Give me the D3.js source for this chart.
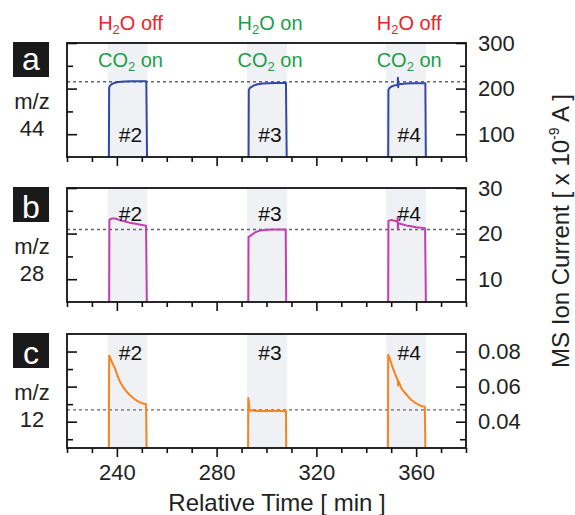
<!DOCTYPE html>
<html><head><meta charset="utf-8">
<script src="https://cdn.jsdelivr.net/npm/d3@7"></script>
<style>
body{margin:0;background:#fff}
svg{display:block;font-family:"Liberation Sans",Arial,Helvetica,sans-serif}
</style>
</head><body>
<svg id="chart" width="575" height="515"></svg>
<script>
// ---------------- data ----------------
const xDomain = [220, 380];
const xTicksMajor = [240, 280, 320, 360];
const xTicksMinor = [220, 230, 250, 260, 270, 290, 300, 310, 330, 340, 350, 370, 380];

const runLabels = ["#2", "#3", "#4"];
const runShade = [[236.3, 252.2], [292.2, 308.2], [348.0, 364.0]];
const waterState = ["off", "on", "off"];
const co2State = ["on", "on", "on"];

const panelLetters = ["a", "b", "c"];
const massLabels = ["44", "28", "12"];

// m/z 44 (x 1e-9 A)
const m44Domain = [50, 300];
const m44Ticks = [100, 200, 300];
const m44Minor = [150, 250];
const m44Ref = 215;
const m44Run2 = [[236.8,50],[236.9,202],[237.2,206],[237.8,209],[238.8,212],[240.5,214.5],[243,215.5],[246,216],[251.8,216],[252.1,50]];
const m44Run3 = [[292.8,50],[292.9,197],[293.3,201],[294,204],[295,207],[296.5,209.5],[298.5,211],[301,212],[304,212.5],[307.8,212.5],[308.1,50]];
const m44Run4 = [[348.8,50],[348.9,197],[349.3,201],[350,204],[351,206.5],[352.3,208],[352.6,208.5],[352.7,224],[352.8,203],[352.95,209.5],[354,210],[356,211],[359,211.5],[363.7,211.5],[363.9,50]];

// m/z 28
const m28Domain = [5, 30];
const m28Ticks = [10, 20, 30];
const m28Minor = [15, 25];
const m28Ref = 20.9;
const m28Run2 = [[236.9,5],[237.0,23.0],[237.8,23.3],[239.3,23.3],[241,23.0],[243,22.7],[245,22.4],[247,22.2],[249,22.0],[251.7,21.7],[252.0,5]];
const m28Run3 = [[292.7,5],[292.8,19.3],[293.5,19.5],[294.5,19.9],[295.5,20.3],[297,20.6],[299,20.8],[302,20.9],[307.7,20.9],[307.9,5]];
const m28Run4 = [[348.8,5],[348.9,22.8],[350,23.0],[351.5,22.8],[352.5,22.6],[352.6,23.6],[352.7,20.9],[352.85,22.3],[354,22.1],[356,21.8],[358,21.6],[360,21.4],[363.6,21.2],[363.9,5]];

// m/z 12
const m12Domain = [0.025, 0.09];
const m12Ticks = [0.04, 0.06, 0.08];
const m12Minor = [0.03, 0.05, 0.07];
const m12Ref = 0.0467;
const m12Run2 = [[236.8,0.025],[236.9,0.0777],[237.3,0.0765],[238,0.074],[239.2,0.0705],[240,0.0672],[241.2,0.0629],[242.5,0.0598],[243.9,0.0571],[245.2,0.0552],[246.5,0.0535],[248,0.0520],[249.2,0.0510],[250.5,0.0504],[251.7,0.0500],[251.9,0.025]];
const m12Run3 = [[292.6,0.025],[292.7,0.0535],[292.9,0.0515],[293.1,0.0475],[293.4,0.0462],[294,0.0465],[295.5,0.0461],[297,0.0463],[299,0.0460],[301,0.0463],[303,0.0461],[305,0.0462],[306.5,0.0460],[307.8,0.0461],[307.9,0.025]];
const m12Run4 = [[348.7,0.025],[348.8,0.0781],[349.2,0.0770],[350,0.0735],[350.5,0.0714],[351.5,0.0675],[352.5,0.0640],[352.7,0.0628],[352.8,0.0606],[352.95,0.0632],[354.1,0.0590],[355.5,0.0565],[356.8,0.0543],[358,0.0525],[359.5,0.0509],[360.8,0.0498],[362.1,0.0490],[363.2,0.0486],[363.5,0.0485],[363.7,0.025]];

// ---------------- layout ----------------
const W = 575, H = 515;
const plotL = 67, plotR = 466;
const panelTops = [43, 188, 334];
const panelH = 114;
const colors = {trace: ["#3148a8", "#c43fae", "#f7841f"], red: "#ee2229", green: "#1c9e48", shade: "#eff1f4"};

const panels = [
  {domain: m44Domain, ticks: m44Ticks, minor: m44Minor, ref: m44Ref, runs: [m44Run2, m44Run3, m44Run4], fmt: d3.format("d"), runLabelDy: 99},
  {domain: m28Domain, ticks: m28Ticks, minor: m28Minor, ref: m28Ref, runs: [m28Run2, m28Run3, m28Run4], fmt: d3.format("d"), runLabelDy: 33},
  {domain: m12Domain, ticks: m12Ticks, minor: m12Minor, ref: m12Ref, runs: [m12Run2, m12Run3, m12Run4], fmt: d3.format(".2f"), runLabelDy: 26}
];
const letterDy = [27, 30, 30];

const svg = d3.select("#chart");
const x = d3.scaleLinear().domain(xDomain).range([plotL, plotR]);

panels.forEach((p, i) => {
  const top = panelTops[i], bot = top + panelH;
  const y = d3.scaleLinear().domain(p.domain).range([bot, top]);
  const g = svg.append("g");

  g.append("clipPath").attr("id", "clip" + i)
    .append("rect").attr("x", plotL).attr("y", top).attr("width", plotR - plotL).attr("height", panelH + 2);

  // shaded run windows
  g.selectAll("rect.shade").data(runShade).enter().append("rect")
    .attr("class", "shade")
    .attr("x", d => x(d[0])).attr("width", d => x(d[1]) - x(d[0]))
    .attr("y", top).attr("height", panelH)
    .attr("fill", colors.shade);

  // reference dashed line
  g.append("line")
    .attr("x1", plotL).attr("x2", plotR)
    .attr("y1", y(p.ref)).attr("y2", y(p.ref))
    .attr("stroke", "#666").attr("stroke-width", 1.3).attr("stroke-dasharray", "3,3");

  // traces
  const line = d3.line().x(d => x(d[0])).y(d => y(d[1]));
  g.selectAll("path.trace").data(p.runs).enter().append("path")
    .attr("class", "trace")
    .attr("d", line)
    .attr("fill", "none")
    .attr("stroke", colors.trace[i])
    .attr("stroke-width", 2)
    .attr("stroke-linejoin", "round")
    .attr("clip-path", "url(#clip" + i + ")");

  // run labels
  g.selectAll("text.run").data(runLabels).enter().append("text")
    .attr("class", "run")
    .attr("x", (d, k) => x((runShade[k][0] + runShade[k][1]) / 2) + 3)
    .attr("y", top + p.runLabelDy)
    .attr("text-anchor", "middle")
    .attr("font-size", 21)
    .attr("fill", "#111")
    .text(d => d);

  // right axis (inward ticks, labels outside)
  const rA = g.append("g").attr("transform", `translate(${plotR},0)`)
    .call(d3.axisRight(y).tickValues(p.ticks).tickSizeInner(-10).tickSizeOuter(0).tickPadding(12).tickFormat(p.fmt));
  const rM = g.append("g").attr("transform", `translate(${plotR},0)`)
    .call(d3.axisRight(y).tickValues(p.minor).tickSizeInner(-6).tickSizeOuter(0).tickFormat(""));
  // left axis (mirror ticks, inward)
  const lA = g.append("g").attr("transform", `translate(${plotL},0)`)
    .call(d3.axisLeft(y).tickValues(p.ticks).tickSizeInner(-10).tickSizeOuter(0).tickFormat(""));
  const lM = g.append("g").attr("transform", `translate(${plotL},0)`)
    .call(d3.axisLeft(y).tickValues(p.minor).tickSizeInner(-6).tickSizeOuter(0).tickFormat(""));
  // bottom axis (outward ticks)
  const bA = g.append("g").attr("transform", `translate(0,${bot})`)
    .call(d3.axisBottom(x).tickValues(xTicksMajor).tickSizeInner(9).tickSizeOuter(0).tickPadding(7)
      .tickFormat(i === 2 ? d3.format("d") : ""));
  const bM = g.append("g").attr("transform", `translate(0,${bot})`)
    .call(d3.axisBottom(x).tickValues(xTicksMinor).tickSizeInner(5).tickSizeOuter(0).tickFormat(""));

  [rA, rM, lA, lM, bA, bM].forEach(a => {
    a.select(".domain").remove();
    a.selectAll(".tick line").attr("stroke", "#111").attr("stroke-width", 1.6);
    a.selectAll(".tick text").attr("font-size", 22).attr("fill", "#222")
      .attr("font-family", '"Liberation Sans",Arial,Helvetica,sans-serif');
  });

  // frame
  g.append("rect")
    .attr("x", plotL).attr("y", top).attr("width", plotR - plotL).attr("height", panelH)
    .attr("fill", "none").attr("stroke", "#111").attr("stroke-width", 1.8);

  // panel letter box
  g.append("rect").attr("x", 13).attr("y", top - 1).attr("width", 36).attr("height", 35).attr("fill", "#1a1a1a");
  g.append("text").attr("x", 31).attr("y", top + letterDy[i])
    .attr("text-anchor", "middle").attr("font-size", 32).attr("fill", "#fff")
    .text(panelLetters[i]);

  // m/z label
  g.append("text").attr("x", 32).attr("y", top + 66)
    .attr("text-anchor", "middle").attr("font-size", 22).attr("fill", "#222").text("m/z");
  g.append("text").attr("x", 32).attr("y", top + 93)
    .attr("text-anchor", "middle").attr("font-size", 22).attr("fill", "#222").text(massLabels[i]);
});

// condition labels (H2O and CO2)
runShade.forEach((r, k) => {
  const cx = x((r[0] + r[1]) / 2) + 3;
  const t1 = svg.append("text").attr("x", cx).attr("y", 30).attr("text-anchor", "middle")
    .attr("font-size", 20).attr("fill", waterState[k] === "off" ? colors.red : colors.green);
  t1.append("tspan").text("H");
  t1.append("tspan").attr("font-size", 13).attr("dy", 4).text("2");
  t1.append("tspan").attr("dy", -4).text("O " + waterState[k]);

  const t2 = svg.append("text").attr("x", cx).attr("y", 67).attr("text-anchor", "middle")
    .attr("font-size", 20).attr("fill", colors.green);
  t2.append("tspan").text("CO");
  t2.append("tspan").attr("font-size", 13).attr("dy", 4).text("2");
  t2.append("tspan").attr("dy", -4).text(" " + co2State[k]);
});

// axis titles
svg.append("text").attr("x", 277).attr("y", 511).attr("text-anchor", "middle")
  .attr("font-size", 24).attr("fill", "#222").text("Relative Time [ min ]");

const yt = svg.append("text").attr("transform", "translate(569,231) rotate(-90)")
  .attr("text-anchor", "middle").attr("font-size", 24).attr("fill", "#222");
yt.append("tspan").text("MS Ion Current [ x 10");
yt.append("tspan").attr("font-size", 14).attr("dy", -10).text("-9");
yt.append("tspan").attr("dy", 10).text(" A ]");
</script>
</body></html>
